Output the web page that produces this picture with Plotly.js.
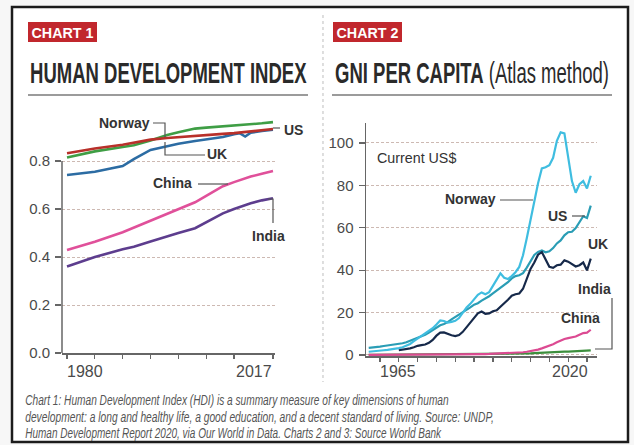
<!DOCTYPE html>
<html>
<head>
<meta charset="utf-8">
<script src="https://cdn.plot.ly/plotly-3.0.1.min.js"></script>
<style>html,body{margin:0;padding:0;background:#f7f7f7;}#chart{width:634px;height:445px;}</style>
</head>
<body>
<div id="chart"></div>
<script>
// ---------- Chart 1: Human Development Index ----------
const hdiYears = [1980,1985,1990,1992,1995,1998,2000,2003,2005,2008,2010,2011,2012,2013,2015,2017];
const hdiNorway = [0.815,0.840,0.858,0.866,0.885,0.908,0.920,0.935,0.939,0.944,0.947,0.949,0.951,0.953,0.957,0.962];
const hdiUS     = [0.832,0.852,0.868,0.876,0.889,0.896,0.900,0.906,0.909,0.913,0.916,0.918,0.920,0.923,0.927,0.933];
const hdiUK     = [0.742,0.755,0.779,0.808,0.846,0.862,0.872,0.883,0.889,0.900,0.912,0.916,0.902,0.918,0.925,0.930];
const hdiChina  = [0.429,0.464,0.503,0.522,0.550,0.580,0.600,0.628,0.655,0.695,0.712,0.720,0.728,0.735,0.747,0.758];
const hdiIndia  = [0.360,0.400,0.432,0.443,0.465,0.487,0.500,0.520,0.545,0.582,0.600,0.608,0.616,0.624,0.636,0.645];
const hdiXTicks = [1980,1985,1990,1995,2000,2005,2010,2017];
const hdiXLabels = ["1980","2017"];
const hdiYTicks = [0,0.2,0.4,0.6,0.8];
const hdiYLabels = ["0.0","0.2","0.4","0.6","0.8"];

// ---------- Chart 2: GNI per capita, Atlas method (thousand current US$) ----------
const gniYears = [1962,1963,1964,1965,1966,1967,1968,1969,1970,1971,
                  1972,1973,1974,1975,1976,1977,1978,1979,1980,1981,
                  1982,1983,1984,1985,1986,1987,1988,1989,1990,1991,
                  1992,1993,1994,1995,1996,1997,1998,1999,2000,2001,
                  2002,2003,2004,2005,2006,2007,2008,2009,2010,2011,
                  2012,2013,2014,2015,2016,2017,2018,2019,2020,2021];
const gniNorway = [1.5,1.6,1.8,2.0,2.2,2.4,2.6,2.9,3.2,3.6,
                   4.3,5.2,6.5,7.8,8.9,10.0,11.3,12.6,14.4,16.3,
                   16.0,15.2,15.6,16.1,17.4,19.8,22.4,24.1,26.2,28.4,
                   29.5,28.6,29.6,32.5,35.6,38.5,36.4,35.8,37.2,39.0,
                   41.5,47.0,55.0,64.0,73.0,81.0,88.0,88.5,89.5,93.0,
                   101.0,105.0,104.5,94.0,82.0,76.5,80.5,82.0,78.5,84.5];
const gniUS = [3.3,3.4,3.6,3.9,4.2,4.4,4.7,5.0,5.2,5.5,
               6.0,6.7,7.3,7.9,8.6,9.5,10.6,11.7,12.8,14.0,
               14.6,15.5,16.8,17.9,18.9,19.9,21.1,22.4,23.7,24.4,
               25.6,26.5,27.7,29.0,30.4,31.8,32.8,34.3,36.1,37.2,
               37.6,38.6,41.2,44.3,47.2,48.6,49.3,48.4,48.9,50.4,
               52.6,54.0,56.4,57.9,58.1,59.8,62.7,65.4,64.6,70.4];
const gniUK = [null,null,null,null,null,null,null,null,2.2,2.4,
               2.7,3.1,3.6,4.3,4.6,4.9,5.7,7.1,9.1,10.5,
               10.6,9.9,9.3,8.9,9.4,10.9,13.1,15.4,17.9,19.6,
               20.5,19.4,19.6,20.6,21.1,22.9,24.4,26.0,27.9,28.6,
               29.0,31.2,35.7,40.6,43.6,47.3,48.5,44.8,41.6,41.1,
               42.3,42.6,44.6,44.0,43.0,41.7,42.3,43.6,39.9,45.4];
const gniChina = [0.07,0.07,0.08,0.1,0.11,0.1,0.09,0.1,0.11,0.12,
                  0.13,0.15,0.16,0.18,0.17,0.18,0.2,0.22,0.22,0.22,
                  0.23,0.26,0.3,0.3,0.29,0.3,0.32,0.33,0.33,0.35,
                  0.39,0.42,0.46,0.53,0.65,0.75,0.8,0.86,0.94,1.01,
                  1.1,1.27,1.51,1.75,2.06,2.51,3.1,3.69,4.34,5.06,
                  5.94,6.8,7.52,7.94,8.25,8.69,9.53,10.31,10.53,11.88];
const gniIndia = [0.09,0.1,0.11,0.11,0.1,0.09,0.1,0.11,0.12,0.12,
                  0.12,0.13,0.14,0.16,0.17,0.18,0.2,0.22,0.27,0.3,
                  0.29,0.29,0.29,0.3,0.31,0.32,0.35,0.37,0.38,0.35,
                  0.33,0.31,0.33,0.37,0.4,0.41,0.42,0.44,0.45,0.46,
                  0.47,0.53,0.62,0.73,0.81,0.95,1.03,1.12,1.27,1.41,
                  1.47,1.5,1.56,1.59,1.67,1.8,2.0,2.09,1.92,2.17];
const gniXTicks = [1965,1970,1975,1980,1985,1990,1995,2000,2005,2010,2015,2020];
const gniXLabels = ["1965","2020"];
const gniYTicks = [0,20,40,60,80,100];
const gniYLabels = ["0","20","40","60","80","100"];

// ---------- helpers (pixel -> paper) ----------
const W = 634, H = 445;
const px = v => v / W;
const py = v => 1 - v / H;

const SANS = '"Liberation Sans",Arial,Helvetica,sans-serif';
const LABEL = {family: SANS, size: 14, color: '#333333', weight: 'bold'};

function line(x, y, name, color, w, xa, ya) {
  return {type: 'scatter', mode: 'lines', x: x, y: y, name: name,
          xaxis: xa, yaxis: ya, line: {color: color, width: w, shape: 'linear'},
          connectgaps: false, hoverinfo: 'skip'};
}

const traces = [
  line(hdiYears, hdiIndia,  'India',  '#5d3d8e', 2.6, 'x', 'y'),
  line(hdiYears, hdiChina,  'China',  '#e0509a', 2.6, 'x', 'y'),
  line(hdiYears, hdiUK,     'UK',     '#2c6ca3', 2.6, 'x', 'y'),
  line(hdiYears, hdiNorway, 'Norway', '#3f9e45', 2.6, 'x', 'y'),
  line(hdiYears, hdiUS,     'US',     '#b8302a', 2.6, 'x', 'y'),
  line(gniYears, gniIndia,  'India',  '#3d8f3d', 2.2, 'x2', 'y2'),
  line(gniYears, gniChina,  'China',  '#dc4a92', 2.2, 'x2', 'y2'),
  line(gniYears, gniUS,     'US',     '#2a9db5', 2.2, 'x2', 'y2'),
  line(gniYears, gniNorway, 'Norway', '#3fbde0', 2.2, 'x2', 'y2'),
  line(gniYears, gniUK,     'UK',     '#16294a', 2.2, 'x2', 'y2')
];

function txt(x, y, text, font, xanchor, yanchor, extra) {
  return Object.assign({xref: 'paper', yref: 'paper', x: px(x), y: py(y), text: text,
    showarrow: false, font: font, xanchor: xanchor || 'center', yanchor: yanchor || 'middle'}, extra || {});
}
function path(d, color, width, dash) {
  const s = d.map((p, i) => (i ? 'L' : 'M') + px(p[0]).toFixed(5) + ',' + py(p[1]).toFixed(5)).join(' ');
  return {type: 'path', xref: 'paper', yref: 'paper', path: s,
          line: {color: color, width: width, dash: dash || 'solid'}};
}

const tickFontX = {family: SANS, size: 16, color: '#4a4a4a'};
const noteFont = {family: SANS, size: 14, color: '#555555', style: 'italic'};
const titleFont = {family: SANS, size: 29, color: '#2a2a2a'};
const leader = '#555555';

// condensed texts: annotation index -> target width in px
const condensed = {};
const annotations = [];
function addAnn(a, targetWidth) {
  if (targetWidth) condensed[annotations.length] = targetWidth;
  annotations.push(a);
}

addAnn(txt(62.5, 32.5, '<b>CHART 1</b>', {family: SANS, size: 15, color: '#ffffff'}), 62);
addAnn(txt(367.5, 32.5, '<b>CHART 2</b>', {family: SANS, size: 15, color: '#ffffff'}), 62);
addAnn(txt(28, 72.5, '<b>HUMAN DEVELOPMENT INDEX</b>', titleFont, 'left'), 277);
addAnn(txt(333, 72.5, '<b>GNI PER CAPITA</b> (Atlas method)', titleFont, 'left'), 274);
addAnn(Object.assign(txt(0, 371, hdiXLabels[0], tickFontX, 'left'), {xref: 'x', x: hdiXTicks[0] - 0.4}));
addAnn(Object.assign(txt(0, 371, hdiXLabels[1], tickFontX, 'right'), {xref: 'x', x: hdiXTicks[hdiXTicks.length - 1] + 0.2}));
addAnn(Object.assign(txt(0, 371, gniXLabels[0], tickFontX, 'left'), {xref: 'x2', x: gniXTicks[0] - 0.4}));
addAnn(Object.assign(txt(0, 371, gniXLabels[1], tickFontX, 'right'), {xref: 'x2', x: gniXTicks[gniXTicks.length - 1] + 0.9}));
addAnn(txt(124, 122.5, 'Norway', LABEL));
addAnn(txt(282, 130, 'US', LABEL, 'left'));
addAnn(txt(217, 154, 'UK', LABEL));
addAnn(txt(172, 182.5, 'China', LABEL));
addAnn(txt(268, 236, 'India', LABEL));
addAnn(txt(375, 157.5, 'Current US$', {family: SANS, size: 15, color: '#333333'}, 'left'), 80);
addAnn(txt(470, 199, 'Norway', LABEL));
addAnn(txt(557, 216, 'US', LABEL));
addAnn(txt(598, 244, 'UK', LABEL));
addAnn(txt(594, 289, 'India', LABEL));
addAnn(txt(580, 318, 'China', LABEL));
addAnn(txt(23, 400, 'Chart 1: Human Development Index (HDI) is a summary measure of key dimensions of human', noteFont, 'left'), 424);
addAnn(txt(23, 416.5, 'development: a long and healthy life, a good education, and a decent standard of living. Source: UNDP,', noteFont, 'left'), 469);
addAnn(txt(23, 433, 'Human Development Report 2020, via Our World in Data. Charts 2 and 3: Source World Bank', noteFont, 'left'), 417);

const shapes = [
  {type: 'rect', xref: 'paper', yref: 'paper', x0: px(12), x1: px(628), y0: py(442), y1: py(7),
   fillcolor: '#ffffff', line: {color: '#1c1c1c', width: 2.5}, layer: 'below'},
  path([[323, 15], [323, 382]], '#bdbdbd', 1, 'dot'),
  {type: 'rect', xref: 'paper', yref: 'paper', x0: px(28), x1: px(97), y0: py(42), y1: py(22),
   fillcolor: '#c1272d', line: {width: 0}, layer: 'below'},
  {type: 'rect', xref: 'paper', yref: 'paper', x0: px(333), x1: px(402), y0: py(42), y1: py(22),
   fillcolor: '#c1272d', line: {width: 0}, layer: 'below'},
  path([[28, 95], [308, 95]], '#7a7a7a', 1.5),
  path([[332, 95], [612, 95]], '#7a7a7a', 1.5),
  {type: 'line', xref: 'paper', yref: 'y', x0: px(62), x1: px(62), y0: 0, y1: hdiYTicks[hdiYTicks.length - 1],
   line: {color: '#666666', width: 1.5}},
  path([[153, 123], [165, 123], [165, 137]], leader, 1.2),
  path([[273, 128], [280, 128]], leader, 1.2),
  path([[165, 142], [165, 155], [205, 155]], leader, 1.2),
  path([[198, 184], [228, 184]], leader, 1.2),
  path([[268, 199], [273, 199], [273, 223]], leader, 1.2),
  path([[500, 200], [533, 200]], leader, 1.2),
  path([[572, 216], [585, 216]], leader, 1.2),
  path([[595, 349], [612, 349], [612, 298]], leader, 1.2)
];

const gridStyle = {showgrid: true, gridcolor: '#cdb9b2', gridwidth: 1, griddash: '3px,2px'};

const layout = {
  width: W, height: H,
  margin: {l: 0, r: 0, t: 0, b: 0, pad: 0},
  paper_bgcolor: '#f7f7f7', plot_bgcolor: 'rgba(0,0,0,0)',
  showlegend: false,
  font: {family: SANS, color: '#4a4a4a'},
  xaxis: {domain: [px(62), px(275)], range: [1979.1, 2017.36], anchor: 'y',
          showgrid: false, zeroline: false, showline: true, linecolor: '#666666', linewidth: 1.5,
          ticks: 'outside', ticklen: 4, tickwidth: 1.2, tickcolor: '#666666',
          tickmode: 'array', tickvals: hdiXTicks, showticklabels: false, fixedrange: true},
  yaxis: Object.assign({domain: [py(353), py(113)], range: [0, 1.0], anchor: 'x',
          zeroline: false, showline: false, ticks: 'outside', ticklen: 6, tickwidth: 1.2, tickcolor: '#666666',
          tickmode: 'array', tickvals: hdiYTicks, ticktext: hdiYLabels, ticklabelstandoff: 2,
          tickfont: {family: SANS, size: 15, color: '#4a4a4a'}, fixedrange: true}, gridStyle),
  xaxis2: {domain: [px(366), px(597)], range: [1961.28, 2022.66], anchor: 'y2',
          showgrid: false, zeroline: false, showline: true, linecolor: '#666666', linewidth: 1.5,
          ticks: 'outside', ticklen: 4, tickwidth: 1.2, tickcolor: '#666666',
          tickmode: 'array', tickvals: gniXTicks, showticklabels: false, fixedrange: true},
  yaxis2: Object.assign({domain: [py(356), py(123)], range: [-0.5, 109.4], anchor: 'x2',
          zeroline: false, showline: true, linecolor: '#666666', linewidth: 1.5,
          ticks: 'outside', ticklen: 6, tickwidth: 1.2, tickcolor: '#666666',
          tickmode: 'array', tickvals: gniYTicks, ticktext: gniYLabels, ticklabelstandoff: 2,
          tickfont: {family: SANS, size: 15, color: '#4a4a4a'}, fixedrange: true}, gridStyle),
  annotations: annotations,
  shapes: shapes
};

// squeeze the condensed newspaper-style texts horizontally to their printed width
function condense(gd) {
  Object.keys(condensed).forEach(function (i) {
    const g = gd.querySelector('.annotation[data-index="' + i + '"]');
    if (!g) return;
    const t = g.querySelector('text');
    if (!t) return;
    const bb = t.getBBox();
    if (!bb.width) return;
    const s = condensed[i] / bb.width;
    const a = annotations[i];
    let ox = bb.x;
    if (a.xanchor === 'center') ox = bb.x + bb.width / 2;
    else if (a.xanchor === 'right') ox = bb.x + bb.width;
    const prev = t.getAttribute('data-base-transform') || t.getAttribute('transform') || '';
    t.setAttribute('data-base-transform', prev);
    t.setAttribute('transform', prev + ' translate(' + ox + ',0) scale(' + s.toFixed(4) + ',1) translate(' + (-ox) + ',0)');
  });
}

Plotly.newPlot('chart', traces, layout, {staticPlot: true, displayModeBar: false}).then(function (gd) {
  condense(gd);
});
</script>
</body>
</html>
